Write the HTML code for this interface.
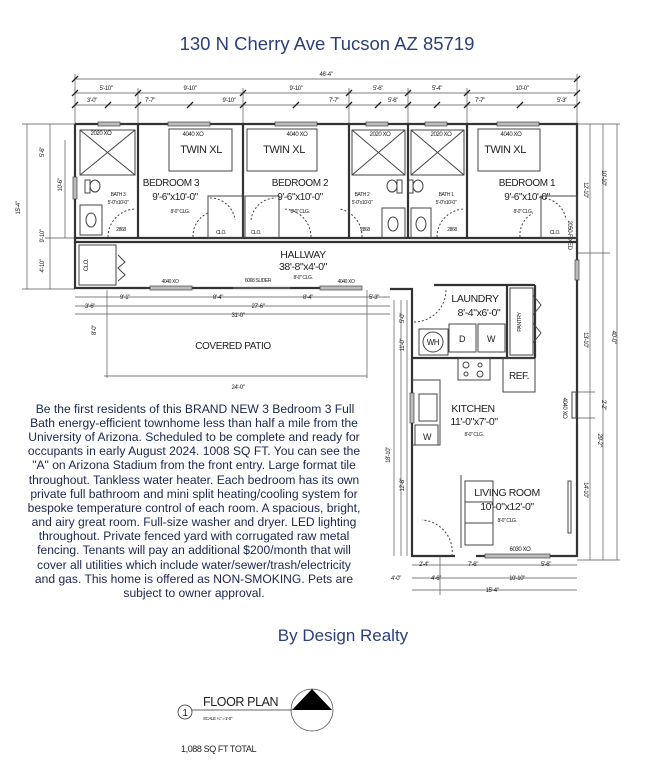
<!DOCTYPE html>
<html><head><meta charset="utf-8"><style>
html,body{margin:0;padding:0;background:#fff;}
svg{display:block;}
.w{stroke:#333;stroke-width:2.2;fill:none;}
.t{stroke:#444;stroke-width:1;fill:none;}
.d{stroke:#555;stroke-width:0.7;fill:none;}
.n{font-family:"Liberation Sans",sans-serif;fill:#222;letter-spacing:-0.4px;}
</style></head><body>
<svg width="650" height="777" viewBox="0 0 650 777" xmlns="http://www.w3.org/2000/svg">
<rect width="650" height="777" fill="#fff"/>
<text x="327" y="50" text-anchor="middle" font-family="Liberation Sans,sans-serif" font-size="18.5" fill="#2b3f7a">130 N Cherry Ave Tucson AZ 85719</text>

<g class="d">
<line x1="75" y1="79" x2="577" y2="79"/>
<line x1="75" y1="93" x2="577" y2="93"/>
<line x1="75" y1="105" x2="577" y2="105"/>
<line x1="75" y1="74" x2="75" y2="124"/><line x1="577" y1="74" x2="577" y2="124"/>
<line x1="138" y1="88" x2="138" y2="124"/><line x1="243" y1="88" x2="243" y2="124"/>
<line x1="349" y1="88" x2="349" y2="124"/><line x1="408" y1="88" x2="408" y2="124"/>
<line x1="467" y1="88" x2="467" y2="124"/>
</g>
<g stroke="#222" stroke-width="1.3">
<path d="M72 82l6-6M574 82l6-6M72 96l6-6M135 96l6-6M240 96l6-6M346 96l6-6M405 96l6-6M464 96l6-6M574 96l6-6M72 108l6-6M105 108l6-6M135 108l6-6M187 108l6-6M240 108l6-6M293 108l6-6M346 108l6-6M375 108l6-6M405 108l6-6M434 108l6-6M464 108l6-6M517 108l6-6M574 108l6-6"/>
</g>
<g class="n" font-size="6" text-anchor="middle">
<text x="326" y="76">46'-4"</text>
<text x="106" y="90">5'-10"</text><text x="190" y="90">9'-10"</text><text x="296" y="90">9'-10"</text><text x="378" y="90">5'-6"</text><text x="437" y="90">5'-4"</text><text x="522" y="90">10'-0"</text>
<text x="92" y="102">3'-0"</text><text x="150" y="102">7'-7"</text><text x="229" y="102">9'-10"</text><text x="334" y="102">7'-7"</text><text x="393" y="102">5'-6"</text><text x="480" y="102">7'-7"</text><text x="562" y="102">5'-3"</text>
</g>

<g class="d">
<line x1="27" y1="124" x2="27" y2="289"/><line x1="50" y1="124" x2="50" y2="289"/>
<line x1="22" y1="124" x2="75" y2="124"/><line x1="22" y1="289" x2="75" y2="289"/><line x1="45" y1="238" x2="75" y2="238"/>
<line x1="65" y1="140" x2="65" y2="238"/>
</g>
<g class="n" font-size="6" text-anchor="middle">
<text transform="translate(20,208) rotate(-90)">15'-4"</text>
<text transform="translate(44,152) rotate(-90)">5'-6"</text>
<text transform="translate(44,236) rotate(-90)">9'-10"</text>
<text transform="translate(44,266) rotate(-90)">4'-10"</text>
<text transform="translate(62,185) rotate(-90)">10'-6"</text>
</g>

<g class="d">
<line x1="590" y1="124" x2="590" y2="560"/><line x1="603" y1="124" x2="603" y2="560"/><line x1="617" y1="124" x2="617" y2="560"/>
<line x1="577" y1="124" x2="620" y2="124"/><line x1="577" y1="253" x2="610" y2="253"/><line x1="577" y1="560" x2="620" y2="560"/>
<line x1="577" y1="392" x2="595" y2="392"/><line x1="577" y1="418" x2="595" y2="418"/>
</g>
<g class="n" font-size="6" text-anchor="middle">
<text transform="translate(602,178) rotate(90)">10'-10"</text>
<text transform="translate(584,190) rotate(90)">12'-10"</text>
<text transform="translate(584,340) rotate(90)">13'-10"</text>
<text transform="translate(602,405) rotate(90)">2'-2"</text>
<text transform="translate(584,490) rotate(90)">14'-10"</text>
<text transform="translate(612,337) rotate(90)">40'-0"</text>
<text transform="translate(598,440) rotate(90)">29'-2"</text>
<text transform="translate(568,235) rotate(90)">2050-FIXED</text>
</g>

<g class="w">
<path d="M75 124H577V556H476M455 556H412V289H390M355 288H75V124"/>
<line x1="75" y1="242" x2="412" y2="242"/>
<line x1="75" y1="238" x2="577" y2="238"/>
<path d="M412 242H577" />
<line x1="138" y1="124" x2="138" y2="238"/>
<line x1="243" y1="124" x2="243" y2="238"/>
<line x1="349" y1="124" x2="349" y2="238"/>
<line x1="408" y1="124" x2="408" y2="238"/>
<line x1="467" y1="124" x2="467" y2="238"/>
<line x1="434" y1="285" x2="535" y2="285"/>
<line x1="412" y1="358" x2="535" y2="358"/>
<line x1="507" y1="285" x2="507" y2="358"/>
<line x1="535" y1="285" x2="535" y2="358"/>
</g>
<g class="t">
<rect x="79" y="245" width="37" height="40"/>
<rect x="208" y="196" width="35" height="42"/><rect x="245" y="196" width="34" height="42"/><rect x="541" y="196" width="36" height="42"/>
<rect x="80" y="130" width="55" height="45"/><path d="M80 130L135 175M135 130L80 175"/>
<rect x="352" y="130" width="53" height="45"/><path d="M352 130L405 175M405 130L352 175"/>
<rect x="411" y="130" width="53" height="45"/><path d="M411 130L464 175M464 130L411 175"/>
<rect x="169" y="129" width="63" height="42"/><rect x="247" y="129" width="70" height="42"/><rect x="478" y="129" width="62" height="42"/>
<ellipse cx="95" cy="186" rx="5" ry="6"/><rect x="85" y="180" width="5" height="13"/>
<ellipse cx="392" cy="186" rx="5" ry="6"/><rect x="397" y="180" width="5" height="13"/>
<ellipse cx="418" cy="186" rx="5" ry="6"/><rect x="408" y="180" width="5" height="13"/>
<rect x="80" y="205" width="22" height="30"/><ellipse cx="91" cy="220" rx="5" ry="7"/>
<rect x="382" y="208" width="23" height="30"/><ellipse cx="393" cy="224" rx="5" ry="7"/>
<rect x="411" y="208" width="20" height="30"/><ellipse cx="421" cy="224" rx="5" ry="7"/>
<path d="M108 237A28 28 0 0 1 136 209" stroke-dasharray="2 2"/>
<path d="M193 237A25 25 0 0 1 208 213" stroke-dasharray="2 2"/>
<path d="M210 198A25 25 0 0 1 235 220" stroke-dasharray="2 2"/>
<path d="M251 220A25 25 0 0 1 276 198" stroke-dasharray="2 2"/>
<path d="M311 237A28 28 0 0 0 283 209" stroke-dasharray="2 2"/>
<path d="M362 237A28 28 0 0 0 340 209" stroke-dasharray="2 2"/>
<path d="M437 237A28 28 0 0 1 465 209" stroke-dasharray="2 2"/>
<path d="M520 237A25 25 0 0 1 533 213" stroke-dasharray="2 2"/>
<path d="M541 198A25 25 0 0 1 566 220" stroke-dasharray="2 2"/>
<path d="M118 255L125 262L118 268L125 275L118 281"/>
<path d="M414 322A32 32 0 0 0 446 290" stroke-dasharray="2 2"/>
<path d="M452 556A32 32 0 0 0 422 520" stroke-dasharray="2 2"/>
<circle cx="433" cy="342" r="10"/><rect x="419" y="329" width="29" height="26"/>
<rect x="449" y="324" width="27" height="28"/><rect x="478" y="324" width="27" height="28"/>
<rect x="510" y="288" width="23" height="67"/><path d="M533 295L541 305L533 315M533 323L541 333L533 343"/>
<rect x="458" y="358" width="32" height="22"/><circle cx="466" cy="365" r="3"/><circle cx="480" cy="365" r="2"/><circle cx="466" cy="374" r="2"/><circle cx="480" cy="374" r="3"/>
<rect x="503" y="358" width="32" height="34"/>
<path d="M412 380H440V445H412"/><rect x="419" y="394" width="18" height="27"/><rect x="415" y="425" width="23" height="20"/>
<rect x="465" y="481" width="28" height="64"/><line x1="465" y1="502" x2="493" y2="502"/><line x1="465" y1="523" x2="493" y2="523"/>
<line x1="461" y1="475" x2="461" y2="548"/>
<rect x="568" y="481" width="3" height="52"/>
<rect x="572" y="392" width="4" height="26"/>
</g>
<g fill="#bbb" stroke="#444" stroke-width="0.7">
<rect x="98" y="122" width="22" height="4"/><rect x="168" y="122" width="42" height="4"/><rect x="275" y="122" width="42" height="4"/>
<rect x="366" y="122" width="22" height="4"/><rect x="425" y="122" width="22" height="4"/><rect x="497" y="122" width="42" height="4"/>
<rect x="150" y="286" width="42" height="4"/><rect x="320" y="286" width="42" height="4"/>
<rect x="73" y="177" width="4" height="22"/><rect x="575" y="260" width="4" height="20"/>
<rect x="485" y="554" width="65" height="4"/><rect x="410" y="393" width="4" height="30"/>
</g>
<line x1="233" y1="288" x2="290" y2="288" stroke="#555" stroke-width="2"/>

<g class="n" text-anchor="middle">
<g font-size="6"><text x="101" y="135">2020 XO</text><text x="193" y="136">4040 XO</text><text x="297" y="136">4040 XO</text><text x="380" y="136">2020 XO</text><text x="441" y="136">2020 XO</text><text x="511" y="136">4040 XO</text></g>
<g font-size="11"><text x="201" y="153">TWIN XL</text><text x="284" y="153">TWIN XL</text><text x="505" y="153">TWIN XL</text></g>
<g font-size="10"><text x="171" y="186">BEDROOM 3</text><text x="300" y="186">BEDROOM 2</text><text x="527" y="186">BEDROOM 1</text>
<text x="175" y="200">9'-6"x10'-0"</text><text x="300" y="200">9'-6"x10'-0"</text><text x="527" y="200">9'-6"x10'-0"</text></g>
<g font-size="5"><text x="180" y="213">8'-0" CLG.</text><text x="300" y="213">8'-0" CLG.</text><text x="523" y="213">8'-0" CLG.</text>
<text x="118" y="196">BATH 3</text><text x="118" y="204">5'-0"x10'-0"</text>
<text x="362" y="196">BATH 2</text><text x="362" y="204">5'-0"x10'-0"</text>
<text x="446" y="196">BATH 1</text><text x="446" y="204">5'-0"x10'-0"</text>
<text x="121" y="231">2868</text><text x="365" y="231">2868</text><text x="452" y="231">2868</text>
<text x="221" y="234">CLO.</text><text x="256" y="234">CLO.</text><text x="555" y="234">CLO.</text>
<text x="170" y="283">4040 XO</text><text x="258" y="282">6068 SLIDER</text><text x="346" y="283">4040 XO</text><text x="303" y="279">8'-0" CLG.</text></g>
<text x="303" y="258" font-size="10.5">HALLWAY</text><text x="303" y="270" font-size="10.5">38'-8"x4'-0"</text>
<text transform="translate(88,265) rotate(-90)" font-size="6">CLO.</text>
<text x="475" y="302" font-size="10.5">LAUNDRY</text><text x="479" y="316" font-size="10.5">8'-4"x6'-0"</text>
<text transform="translate(521,322) rotate(-90)" font-size="5.5">PANTRY</text>
<text x="433" y="345" font-size="8">WH</text><text x="462" y="342" font-size="9">D</text><text x="491" y="342" font-size="9">W</text>
<text x="519" y="379" font-size="10">REF.</text><text x="427" y="440" font-size="9">W</text>
<text x="473" y="412" font-size="10.5">KITCHEN</text><text x="474" y="425" font-size="10.5">11'-0"x7'-0"</text><text x="474" y="436" font-size="5">8'-0" CLG.</text>
<text x="507" y="496" font-size="10.5">LIVING ROOM</text><text x="507" y="510" font-size="10.5">10'-0"x12'-0"</text><text x="507" y="522" font-size="5">8'-0" CLG.</text>
<text x="520" y="551" font-size="6">6030 XO</text>
<text transform="translate(563,408) rotate(90)" font-size="6">4040 XO</text>
<text x="233" y="349" font-size="10">COVERED PATIO</text><text x="238" y="389" font-size="6">24'-0"</text>
</g>
<g class="d">
<line x1="107" y1="290" x2="107" y2="378"/><line x1="367" y1="290" x2="367" y2="378"/><line x1="104" y1="376" x2="367" y2="376"/>
<line x1="75" y1="297" x2="390" y2="297"/><line x1="75" y1="306" x2="390" y2="306"/><line x1="75" y1="314" x2="390" y2="314"/>
<line x1="394" y1="300" x2="394" y2="556"/><line x1="401" y1="300" x2="401" y2="556"/><line x1="407" y1="300" x2="407" y2="556"/>
<line x1="412" y1="565" x2="577" y2="565"/><line x1="412" y1="578" x2="577" y2="578"/><line x1="412" y1="590" x2="577" y2="590"/>
<line x1="440" y1="556" x2="440" y2="595"/>
</g>
<g class="n" font-size="6" text-anchor="middle">
<text x="125" y="299">9'-1"</text><text x="218" y="299">8'-4"</text><text x="308" y="299">8'-4"</text><text x="374" y="299">5'-3"</text>
<text x="90" y="308">3'-6"</text><text x="258" y="308">27'-6"</text><text x="238" y="317">31'-0"</text>
<text transform="translate(96,330) rotate(-90)">8'-0"</text>
<text transform="translate(404,318) rotate(-90)">5'-0"</text><text transform="translate(404,345) rotate(-90)">11'-0"</text>
<text transform="translate(390,455) rotate(-90)">18'-10"</text><text transform="translate(404,485) rotate(-90)">12'-8"</text>
<text x="424" y="566">2'-4"</text><text x="473" y="566">7'-6"</text><text x="546" y="566">5'-6"</text>
<text x="396" y="580">4'-0"</text><text x="436" y="580">4'-6"</text><text x="517" y="580">10'-10"</text><text x="492" y="592">15'-4"</text>
</g>

<g font-family="Liberation Sans,sans-serif" font-size="12.1" fill="#1a2650" text-anchor="middle">
<text x="195" y="413">Be the first residents of this BRAND NEW 3 Bedroom 3 Full</text>
<text x="194" y="427">Bath energy-efficient townhome less than half a mile from the</text>
<text x="194" y="441">University of Arizona. Scheduled to be complete and ready for</text>
<text x="194" y="455">occupants in early August 2024. 1008 SQ FT. You can see the</text>
<text x="194" y="469">"A" on Arizona Stadium from the front entry. Large format tile</text>
<text x="194" y="484">throughout. Tankless water heater. Each bedroom has its own</text>
<text x="194" y="498">private full bathroom and mini split heating/cooling system for</text>
<text x="194" y="512">bespoke temperature control of each room. A spacious, bright,</text>
<text x="194" y="526">and airy great room. Full-size washer and dryer. LED lighting</text>
<text x="194" y="540">throughout. Private fenced yard with corrugated raw metal</text>
<text x="194" y="554">fencing. Tenants will pay an additional $200/month that will</text>
<text x="194" y="569">cover all utilities which include water/sewer/trash/electricity</text>
<text x="194" y="583">and gas. This home is offered as NON-SMOKING. Pets are</text>
<text x="194" y="597">subject to owner approval.</text>
</g>
<text x="343" y="641" text-anchor="middle" font-family="Liberation Sans,sans-serif" font-size="17" fill="#2b3f7a">By Design Realty</text>

<circle cx="185" cy="712" r="7" fill="none" stroke="#333" stroke-width="0.8"/>
<text x="185" y="716" text-anchor="middle" class="n" font-size="10">1</text>
<line x1="192" y1="710" x2="292" y2="710" stroke="#333" stroke-width="0.8"/>
<text x="203" y="706" class="n" font-size="12.5">FLOOR PLAN</text>
<text x="203" y="720" class="n" font-size="4.5">SCALE ¼" = 1'-0"</text>
<circle cx="312" cy="710" r="21" fill="none" stroke="#555" stroke-width="0.8"/>
<path d="M292 710L312 689L332 710Z" fill="#000"/>
<text x="181" y="752" class="n" font-size="9">1,088 SQ FT TOTAL</text>
</svg>
</body></html>
